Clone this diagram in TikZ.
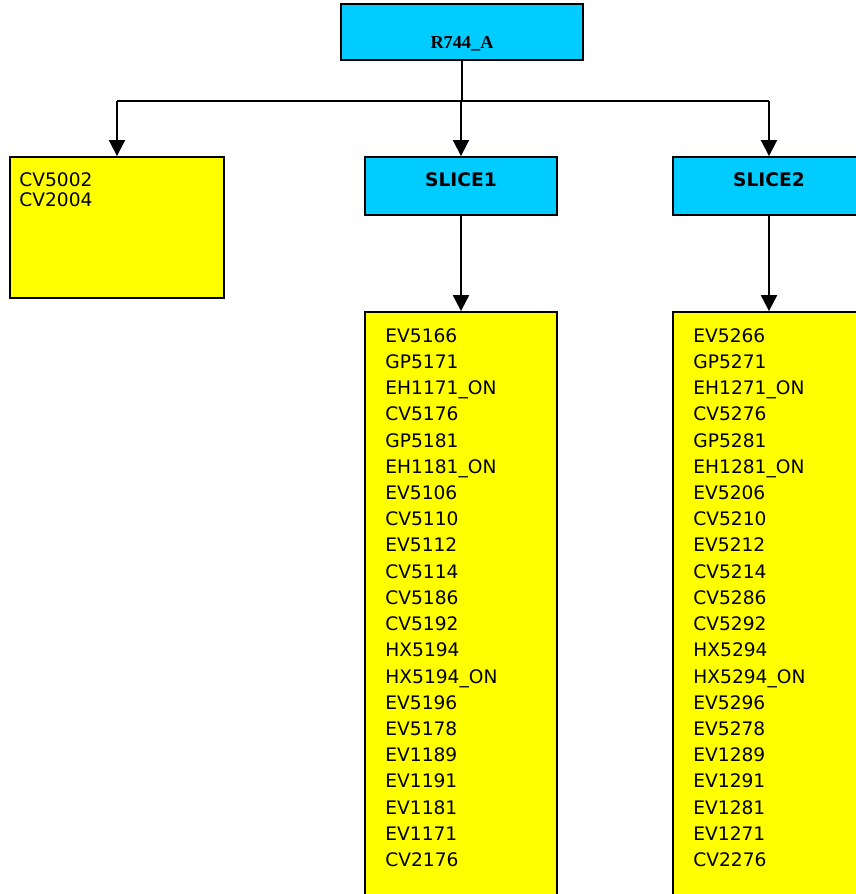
\documentclass[tikz,border=0pt]{standalone}
\usepackage{fontspec}
\setmainfont{DejaVu Sans}
\newfontfamily\titlefont{Liberation Serif}
\definecolor{boxcyan}{RGB}{0,204,255}
\definecolor{boxyellow}{RGB}{255,255,0}
\usetikzlibrary{arrows.meta,positioning,calc}

\begin{document}
\begin{tikzpicture}[x=0.02cm, y=-0.02cm,
    conn/.style={line width=1.1pt, black},
    arr/.style={conn, -{Triangle[length=0.32cm, width=0.32cm]}},
    headbox/.style={draw=black, line width=1.1pt, fill=boxcyan, inner sep=0pt},
    listbox/.style={draw=black, line width=1.1pt, fill=boxyellow, inner sep=0pt},
    listfont/.style={font=\fontsize{10.6}{14.92}\selectfont, align=left, inner sep=0pt, anchor=north west}]
  \useasboundingbox (0,0) rectangle (856,894);
  \clip (0,0) rectangle (856,894);
  % Top unit
  \node[headbox, minimum width=4.84cm, minimum height=1.12cm,
    label={[font=\titlefont\fontsize{10.4}{12}\selectfont\bfseries, yshift=-0.24cm]center:R744\_A}] (top) at (462,32) {};
  % Common items
  \node[listbox, minimum width=4.28cm, minimum height=2.82cm,
    label={[listfont, font=\fontsize{10.6}{11.34}\selectfont, xshift=0.2cm, yshift=-0.33cm]north west:{CV5002\\CV2004}}] (left) at (117,227.5) {};
  % Slices
  \node[headbox, minimum width=3.84cm, minimum height=1.16cm,
    label={[font=\fontsize{10.6}{12}\selectfont\bfseries, yshift=0.12cm]center:SLICE1}] (slice1) at (461,186) {};
  \node[headbox, minimum width=3.84cm, minimum height=1.16cm,
    label={[font=\fontsize{10.6}{12}\selectfont\bfseries, yshift=0.12cm]center:SLICE2}] (slice2) at (769,186) {};
  % Slice 1 items
  \node[listbox, minimum width=3.84cm, minimum height=12.36cm,
    label={[listfont, xshift=0.42cm, yshift=-0.34cm]north west:{EV5166\\GP5171\\EH1171\_ON\\CV5176\\GP5181\\EH1181\_ON\\EV5106\\CV5110\\EV5112\\CV5114\\CV5186\\CV5192\\HX5194\\HX5194\_ON\\EV5196\\EV5178\\EV1189\\EV1191\\EV1181\\EV1171\\CV2176}}] (list1) at (461,621) {};
  % Slice 2 items
  \node[listbox, minimum width=3.84cm, minimum height=12.36cm,
    label={[listfont, xshift=0.42cm, yshift=-0.34cm]north west:{EV5266\\GP5271\\EH1271\_ON\\CV5276\\GP5281\\EH1281\_ON\\EV5206\\CV5210\\EV5212\\CV5214\\CV5286\\CV5292\\HX5294\\HX5294\_ON\\EV5296\\EV5278\\EV1289\\EV1291\\EV1281\\EV1271\\CV2276}}] (list2) at (769,621) {};
  % Connectors
  \coordinate (bus) at (462,101);
  \draw[conn] (top.south) -- (top.south |- bus);
  \draw[conn] (left.north |- bus) -- (slice2.north |- bus);
  \draw[arr] (left.north |- bus) -- (left.north);
  \draw[arr] (slice1.north |- bus) -- (slice1.north);
  \draw[arr] (slice2.north |- bus) -- (slice2.north);
  \draw[arr] (slice1) -- (list1);
  \draw[arr] (slice2) -- (list2);
\end{tikzpicture}
\end{document}
